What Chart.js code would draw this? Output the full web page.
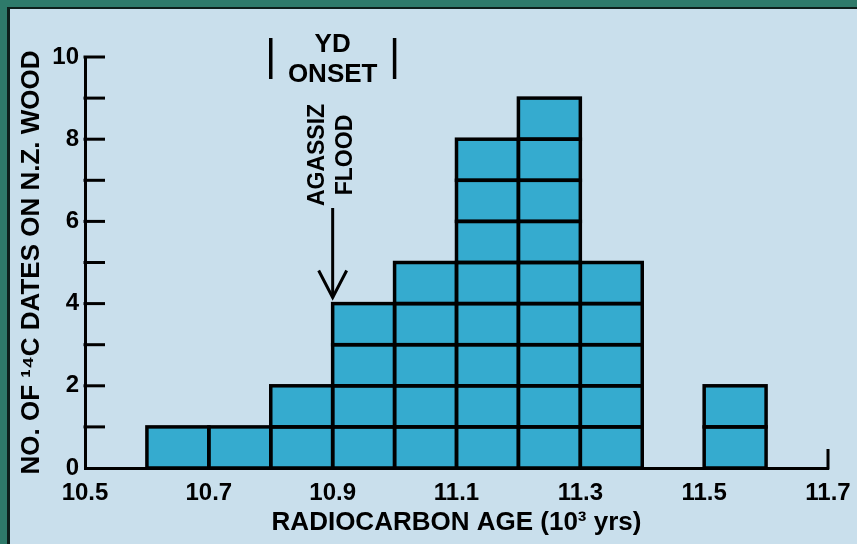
<!DOCTYPE html>
<html>
<head>
<meta charset="utf-8">
<script src="https://cdn.jsdelivr.net/npm/chart.js@4.4.0/dist/chart.umd.min.js"></script>
<style>
  html, body { margin: 0; padding: 0; }
  body { width: 857px; height: 544px; background: #2e7a6a; position: relative; overflow: hidden; }
  #panel { position: absolute; left: 7px; top: 7px; width: 860px; height: 560px; background: #c9dfec; border-left: 3px solid #0d1f1b; border-top: 2px solid #0d1f1b; box-sizing: border-box; }
  #chart { position: absolute; left: 0; top: 0; }
</style>
</head>
<body>
<div id="panel"></div>
<canvas id="chart" width="857" height="544"></canvas>
<script>
// histogram bins (left edge, 10^3 yrs) and number of dates in each
const binStarts = [10.6, 10.7, 10.8, 10.9, 11.0, 11.1, 11.2, 11.3, 11.5]
const binCounts = [1, 1, 2, 4, 5, 8, 9, 5, 2]
const binWidth = 0.1

const xTicks = [10.5, 10.7, 10.9, 11.1, 11.3, 11.5, 11.7]
const yTicks = [0, 2, 4, 6, 8, 10]

const FONT = "'Liberation Sans', Arial, sans-serif"
const barColor = '#35abcf'

// one stacked dataset per level, so every date is its own box
const maxCount = Math.max(...binCounts)
const datasets = []
for (let level = 1; level <= maxCount; level++) {
    const pts = []
    binStarts.forEach((start, i) => {
        if (binCounts[i] >= level) pts.push({ x: +(start + binWidth / 2).toFixed(2), y: 1 })
    })
    datasets.push({
        data: pts,
        backgroundColor: barColor,
        borderWidth: 0,
        barPercentage: 1,
        categoryPercentage: 1
    })
}

const boxOutlines = {
    id: 'boxOutlines',
    afterDatasetsDraw(chart) {
        const ctx = chart.ctx
        ctx.save()
        ctx.strokeStyle = '#000'
        ctx.lineWidth = 3.5
        chart.data.datasets.forEach((ds, i) => {
            chart.getDatasetMeta(i).data.forEach(bar => {
                const w = bar.width
                ctx.strokeRect(bar.x - w / 2, bar.y, w, bar.base - bar.y)
            })
        })
        ctx.restore()
    }
}

const axisExtras = {
    id: 'axisExtras',
    afterDraw(chart) {
        const ctx = chart.ctx
        const xs = chart.scales.x
        const ys = chart.scales.y
        const left = chart.chartArea.left
        ctx.save()
        ctx.strokeStyle = '#000'
        ctx.fillStyle = '#000'
        ctx.lineWidth = 3
        ctx.lineCap = 'butt'
        // inward ticks on the y axis
        for (let v = 1; v <= 10; v++) {
            const y = ys.getPixelForValue(v)
            ctx.beginPath()
            ctx.moveTo(left - 1.5, y)
            ctx.lineTo(left + 20, y)
            ctx.stroke()
        }
        // end tick at 11.7
        const xr = xs.getPixelForValue(11.7)
        ctx.beginPath()
        ctx.moveTo(xr, ys.getPixelForValue(0) + 1.5)
        ctx.lineTo(xr, ys.getPixelForValue(0) - 19)
        ctx.stroke()

        // YD onset bracket
        const x1 = xs.getPixelForValue(10.8)
        const x2 = xs.getPixelForValue(11.0)
        const xm = xs.getPixelForValue(10.9)
        ctx.lineWidth = 3.5
        ;[x1, x2].forEach(x => {
            ctx.beginPath()
            ctx.moveTo(x, 38)
            ctx.lineTo(x, 79)
            ctx.stroke()
        })
        ctx.font = 'bold 26px ' + FONT
        ctx.textAlign = 'center'
        ctx.textBaseline = 'middle'
        ctx.fillText('YD', xm, 45)
        ctx.fillText('ONSET', xm, 75)

        // Agassiz flood label and arrow
        ctx.save()
        ctx.translate(xm, 155)
        ctx.rotate(-Math.PI / 2)
        ctx.font = 'bold 23px ' + FONT
        ctx.fillText('AGASSIZ', 0, -15)
        ctx.fillText('FLOOD', 0, 13)
        ctx.restore()

        const tipY = ys.getPixelForValue(4.15)
        ctx.lineWidth = 3
        ctx.beginPath()
        ctx.moveTo(xm, 208)
        ctx.lineTo(xm, tipY)
        ctx.stroke()
        ctx.beginPath()
        ctx.moveTo(xm - 14, tipY - 27)
        ctx.lineTo(xm, tipY)
        ctx.lineTo(xm + 14, tipY - 27)
        ctx.stroke()
        ctx.restore()
    }
}

new Chart(document.getElementById('chart'), {
    type: 'bar',
    data: { datasets: datasets },
    options: {
        responsive: false,
        animation: false,
        layout: { padding: { left: 0, top: 57, right: 29, bottom: 0 } },
        plugins: { legend: { display: false }, tooltip: { enabled: false } },
        scales: {
            x: {
                type: 'linear',
                stacked: true,
                offset: false,
                min: 10.5,
                max: 11.7,
                afterBuildTicks: s => { s.ticks = xTicks.map(v => ({ value: v })) },
                afterFit: s => { s.height = 76 },
                grid: { display: false },
                border: { display: true, color: '#000', width: 3 },
                ticks: {
                    color: '#000',
                    padding: 3,
                    maxRotation: 0,
                    autoSkip: false,
                    font: { family: FONT, size: 24, weight: 'bold' },
                    callback: v => v.toFixed(1)
                },
                title: {
                    display: true,
                    text: 'RADIOCARBON AGE (10³ yrs)',
                    color: '#000',
                    font: { family: FONT, size: 26, weight: 'bold' },
                    padding: { top: 0, bottom: 6 }
                }
            },
            y: {
                stacked: true,
                min: 0,
                max: 10,
                afterBuildTicks: s => { s.ticks = yTicks.map(v => ({ value: v })) },
                afterFit: s => { s.width = 85 },
                grid: { display: false },
                border: { display: true, color: '#000', width: 3 },
                ticks: {
                    color: '#000',
                    padding: -2,
                    font: { family: FONT, size: 24, weight: 'bold' }
                },
                title: {
                    display: true,
                    text: 'NO. OF ¹⁴C DATES ON N.Z. WOOD',
                    color: '#000',
                    font: { family: FONT, size: 26, weight: 'bold' },
                    padding: { top: 16, bottom: 0 }
                }
            }
        }
    },
    plugins: [boxOutlines, axisExtras]
})
</script>
</body>
</html>
